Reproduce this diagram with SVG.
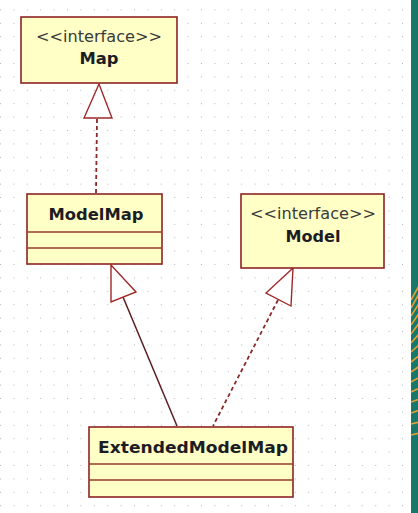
<svg xmlns="http://www.w3.org/2000/svg" width="418" height="513" viewBox="0 0 418 513">
<defs>
<pattern id="grid" x="1" y="-3" width="13.4" height="13.4" patternUnits="userSpaceOnUse">
<rect x="12.4" y="12.4" width="1.2" height="1.2" fill="#b4b4b4"/>
</pattern>
<clipPath id="stripeClip"><rect x="411" y="285" width="7" height="155"/></clipPath>
<style>
.box{fill:#ffffc6;stroke:#8e2424;stroke-width:1.6}
.div{stroke:#9a3a30;stroke-width:1.5}
.st{font-family:"DejaVu Sans",Verdana,sans-serif;font-size:15px;fill:#3a3a3a;text-anchor:middle}
.nm{font-family:"DejaVu Sans",Verdana,sans-serif;font-size:15.5px;font-weight:bold;fill:#1c1c24;text-anchor:middle}
.tri{fill:#ffffff;stroke:#a02828;stroke-width:1.4}
.solid{stroke:#5a1e1e;stroke-width:1.5;fill:none}
.dash{stroke:#8a2a2a;stroke-width:1.8;stroke-dasharray:4 3;fill:none}
</style>
</defs>
<rect width="418" height="513" fill="#ffffff"/>
<rect width="408" height="513" fill="url(#grid)"/>
<rect x="411" y="0" width="7" height="513" fill="#17786a"/>
<g clip-path="url(#stripeClip)" stroke="#e8a030" stroke-width="1.6">
<line x1="411" y1="300" x2="420" y2="284"/>
<line x1="411" y1="308" x2="420" y2="292"/>
<line x1="411" y1="316" x2="420" y2="302"/>
<line x1="411" y1="325" x2="420" y2="312"/>
<line x1="411" y1="334" x2="420" y2="322"/>
<line x1="411" y1="343" x2="420" y2="333"/>
<line x1="411" y1="352" x2="420" y2="344"/>
<line x1="411" y1="362" x2="420" y2="355"/>
<line x1="411" y1="372" x2="420" y2="366"/>
<line x1="411" y1="382" x2="420" y2="377"/>
<line x1="411" y1="392" x2="420" y2="388"/>
<line x1="411" y1="402" x2="420" y2="399"/>
<line x1="411" y1="413" x2="420" y2="410"/>
<line x1="411" y1="424" x2="420" y2="422"/>
<line x1="411" y1="435" x2="420" y2="433"/>
</g>
<g id="connectors">
<line class="dash" x1="97" y1="119" x2="96" y2="194"/>
<polygon class="tri" points="99,84 84,118 112,118"/>
<line class="solid" x1="123" y1="297" x2="177" y2="426"/>
<polygon class="tri" points="111,265 111,302 136,292"/>
<line class="dash" x1="278" y1="300" x2="213" y2="426"/>
<polygon class="tri" points="293,268 266,293 291,306"/>
</g>
<g id="Map">
<rect class="box" x="21" y="17" width="156" height="66"/>
<text class="st" x="99" y="42" textLength="126" lengthAdjust="spacingAndGlyphs">&lt;&lt;interface&gt;&gt;</text>
<text class="nm" x="99" y="64" textLength="39" lengthAdjust="spacingAndGlyphs">Map</text>
</g>
<g id="ModelMap">
<rect class="box" x="27" y="194" width="135" height="70"/>
<line class="div" x1="27" y1="232" x2="162" y2="232"/>
<line class="div" x1="27" y1="248" x2="162" y2="248"/>
<text class="nm" x="96" y="220" textLength="95" lengthAdjust="spacingAndGlyphs">ModelMap</text>
</g>
<g id="Model">
<rect class="box" x="241" y="194" width="143" height="74"/>
<text class="st" x="313" y="219" textLength="126" lengthAdjust="spacingAndGlyphs">&lt;&lt;interface&gt;&gt;</text>
<text class="nm" x="313" y="242" textLength="55" lengthAdjust="spacingAndGlyphs">Model</text>
</g>
<g id="ExtendedModelMap">
<rect class="box" x="89" y="427" width="204" height="70"/>
<line class="div" x1="89" y1="464" x2="293" y2="464"/>
<line class="div" x1="89" y1="480" x2="293" y2="480"/>
<text class="nm" x="193" y="453" textLength="190" lengthAdjust="spacingAndGlyphs">ExtendedModelMap</text>
</g>
</svg>
